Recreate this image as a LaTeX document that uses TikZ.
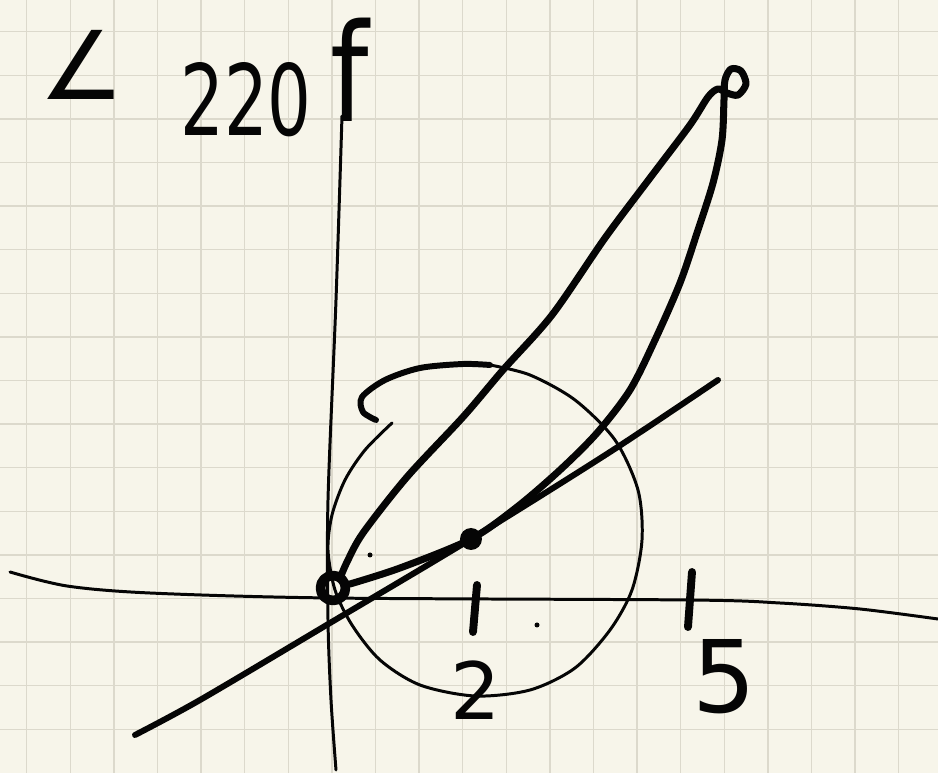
\documentclass[tikz,border=0pt]{standalone}
\usepackage{fontspec}
\usepackage{tikz}
\newfontfamily\handfont{DejaVu Sans}
\definecolor{paper}{HTML}{F7F5EA}
\definecolor{gridline}{HTML}{DCD9CC}
\definecolor{ink}{HTML}{050505}

\begin{document}
\begin{tikzpicture}[x=0.02cm,y=-0.02cm,line cap=round,line join=round,
    thinline/.style={draw=ink,line width=1.7pt},
    penline/.style={draw=ink,line width=4pt},
    hand/.style={text=ink,inner sep=0pt,font=\handfont}]
    \useasboundingbox(0,0)rectangle(938,773);
    \fill[paper](0,0)rectangle(938,773);
    \foreach \i in {0,...,20} \draw[gridline,line width=0.8pt](26.7+43.6*\i,0)--++(0,773);
    \foreach \j in {0,...,16} \draw[gridline,line width=0.8pt](0,31.7+43.6*\j)--++(938,0);
    \node[hand,font=\handfont\fontsize{54}{54}\selectfont,anchor=base](ang)at(82,100){∠};
    \node[hand,font=\handfont\fontsize{56}{56}\selectfont,xscale=0.7](num)at(246,100){220};
    \node[hand,font=\handfont\fontsize{62}{62}\selectfont,yscale=1.25,anchor=base](fx)at(350,122){f};
    \node[hand,font=\handfont\fontsize{45}{45}\selectfont](two)at(476,690){2};
    \node[hand,font=\handfont\fontsize{57}{57}\selectfont](five)at(724,677){5};
    \node[circle,fill=ink,inner sep=0pt,minimum size=0.44cm](tp)at(471,539){};
    \node[circle,draw=ink,line width=5.5pt,inner sep=0pt,minimum size=0.5cm](o)at(333,588){};
    \draw[thinline]plot[smooth]coordinates{(10,572)(67,586)(150,593)(330,598)(690,600)(780,603)(860,609)(938,619)};
    \draw[thinline]plot[smooth]coordinates{(342,116)(336,300)(328,500)(328,620)(331,700)(336,770)};
    \draw[ink,line width=4.5pt](477,585)--(473,632);
    \draw[ink,line width=4.5pt](692,572)--(688,627);
    \draw[thinline]plot[smooth]coordinates{(392,423)(365,450)(345,480)(332,515)(328,550)(335,590)(352,625)(380,660)(420,685)(475,696)(530,690)(575,668)(610,630)(632,590)(642,540)(638,490)(615,440)(575,400)(530,375)(490,365)};
    \draw[ink,line width=3.4pt]plot[smooth]coordinates{(490,365)(463,364)(420,368)(385,380)(362,397)(363,412)(376,420)};
    \draw[ink,line width=3.4pt]plot[smooth]coordinates{(135,735)(200,700)(330,623)(tp)(610,452)(718,380)};
    \draw[penline]plot[smooth]coordinates{(350,584)(400,568)(tp)(517,507)(560,470)(597,433)(630,390)(655,340)(680,283)(697,233)(713,183)(722,140)(724,100)(725,80)(731,69)(741,71)(746,84)(738,95)(727,93)(718,89)(708,97)(690,125)(650,178)(605,238)(552,315)(503,370)(463,417)(407,477)(363,533)(347,562)(341,576)};
    \fill[ink](370,555)circle(2.5);
    \fill[ink](537,625)circle(2.5);
\end{tikzpicture}
\end{document}
